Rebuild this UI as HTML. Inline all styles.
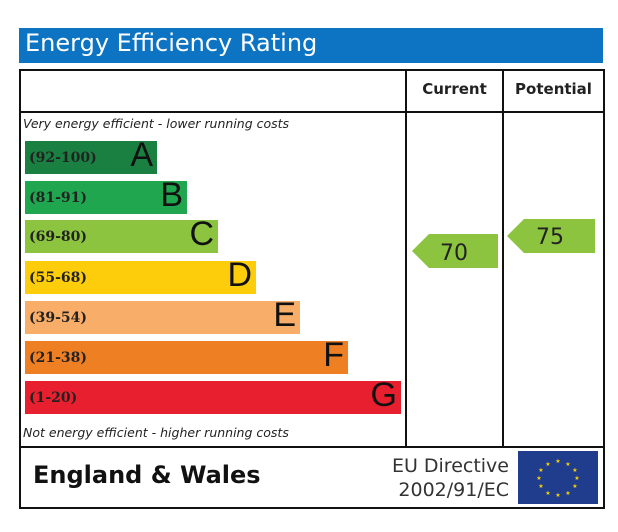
<!DOCTYPE html>
<html><head><style>
body{margin:0;width:618px;height:532px;background:#fff;position:relative;overflow:hidden;font-family:"DejaVu Sans","Liberation Sans",sans-serif}
div{position:absolute;box-sizing:border-box}
.bar{left:25px;height:33px}
.rng{left:4px;top:9px;font:bold 14px "DejaVu Serif","Liberation Serif",serif;color:#222}
.let{right:4px;top:-5px;font-size:34px;color:#111;font-family:"Liberation Sans",sans-serif}
.it{font-style:italic;font-size:12.5px;color:#222;left:23px}
</style></head><body>
<div style="left:19px;top:28px;width:584px;height:35px;background:#0c74c2;color:#fff;font-size:24px;padding:1px 0 0 6px">Energy Efficiency Rating</div>
<div style="left:19px;top:69px;width:586px;height:440px;border:2px solid #111"></div>
<div style="left:19px;top:111px;width:586px;height:2px;background:#111"></div>
<div style="left:19px;top:446px;width:586px;height:2px;background:#111"></div>
<div style="left:405px;top:69px;width:2px;height:378px;background:#111"></div>
<div style="left:502px;top:69px;width:2px;height:378px;background:#111"></div>
<div style="left:407px;top:80px;width:95px;text-align:center;font-weight:bold;font-size:15px;color:#222">Current</div>
<div style="left:504px;top:80px;width:99px;text-align:center;font-weight:bold;font-size:15px;color:#222">Potential</div>
<div class="it" style="top:116px">Very energy efficient - lower running costs</div>
<div class="it" style="top:425px">Not energy efficient - higher running costs</div>
<div class="bar" style="top:141px;width:132px;background:#198042"><div class="rng">(92-100)</div><div class="let">A</div></div>
<div class="bar" style="top:181px;width:162px;background:#1fa64f"><div class="rng">(81-91)</div><div class="let">B</div></div>
<div class="bar" style="top:220px;width:193px;background:#8cc43f"><div class="rng">(69-80)</div><div class="let">C</div></div>
<div class="bar" style="top:261px;width:231px;background:#fdcc0b"><div class="rng">(55-68)</div><div class="let">D</div></div>
<div class="bar" style="top:301px;width:275px;background:#f8ad69"><div class="rng">(39-54)</div><div class="let">E</div></div>
<div class="bar" style="top:341px;width:323px;background:#ef7f23"><div class="rng">(21-38)</div><div class="let">F</div></div>
<div class="bar" style="top:381px;width:376px;background:#e81f2e"><div class="rng">(1-20)</div><div class="let">G</div></div>
<svg style="position:absolute;left:0;top:0" width="618" height="532">
<polygon points="412,251 429,234 498,234 498,268 429,268" fill="#8cc43f"/>
<text x="454" y="260" font-size="22" font-family="DejaVu Sans,sans-serif" fill="#222" text-anchor="middle">70</text>
<polygon points="507,236 524,219 595,219 595,253 524,253" fill="#8cc43f"/>
<text x="550" y="244" font-size="22" font-family="DejaVu Sans,sans-serif" fill="#222" text-anchor="middle">75</text>
<rect x="518" y="451" width="80" height="53" fill="#1f3d8c"/>
<g fill="#f6d300" font-size="6" text-anchor="middle">
<text x="558" y="463">★</text><text x="568" y="466">★</text><text x="575" y="472">★</text><text x="577" y="480">★</text><text x="575" y="488">★</text><text x="568" y="495">★</text><text x="558" y="497">★</text><text x="548" y="495">★</text><text x="541" y="488">★</text><text x="539" y="480">★</text><text x="541" y="472">★</text><text x="548" y="466">★</text>
</g>
</svg>
<div style="left:33px;top:461px;font-weight:bold;font-size:24px;color:#111">England &amp; Wales</div>
<div style="left:370px;top:454px;width:139px;text-align:right;font-size:19px;color:#333;line-height:24px">EU Directive<br>2002/91/EC</div>
</body></html>
